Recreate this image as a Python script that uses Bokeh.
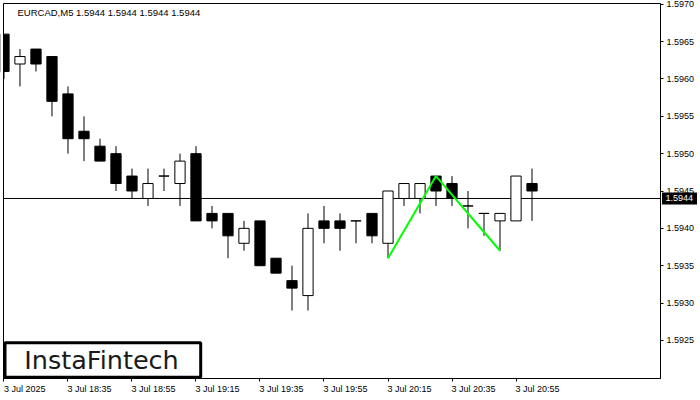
from bokeh.plotting import figure
from bokeh.models import Range1d, FixedTicker, BoxAnnotation
from bokeh.core.properties import value
from bokeh.embed import file_html
from bokeh.resources import INLINE

# ---- data (EURCAD, M5) ----
opens  = [1.5966, 1.5962, 1.5964, 1.5963, 1.5958, 1.5953, 1.5951, 1.5950, 1.5947, 1.5944,
          1.5947, 1.5946, 1.5950, 1.5942, 1.5942, 1.5938, 1.5941, 1.5936, 1.5933, 1.5931,
          1.5941, 1.5941, 1.5941, 1.5942, 1.5938, 1.5944, 1.5944, 1.5947, 1.5946, 1.5943,
          1.5942, 1.5941, 1.5941, 1.5946]
highs  = [1.5966, 1.5964, 1.5964, 1.5963, 1.5959, 1.5955, 1.5952, 1.5951, 1.5948, 1.5948,
          1.5948, 1.5950, 1.5951, 1.5943, 1.5942, 1.5941, 1.5941, 1.5936, 1.5935, 1.5942,
          1.5943, 1.5942, 1.5941, 1.5942, 1.5945, 1.5946, 1.5946, 1.5947, 1.5947, 1.5945,
          1.5942, 1.5942, 1.5947, 1.5948]
lows   = [1.5960, 1.5959, 1.5961, 1.5955, 1.5950, 1.5949, 1.5949, 1.5945, 1.5944, 1.5943,
          1.5945, 1.5943, 1.5941, 1.5940, 1.5936, 1.5937, 1.5935, 1.5934, 1.5929, 1.5929,
          1.5938, 1.5937, 1.5938, 1.5938, 1.5936, 1.5943, 1.5942, 1.5943, 1.5943, 1.5940,
          1.5939, 1.5937, 1.5941, 1.5941]
closes = [1.5961, 1.5963, 1.5962, 1.5957, 1.5952, 1.5952, 1.5949, 1.5946, 1.5945, 1.5946,
          1.5947, 1.5949, 1.5941, 1.5941, 1.5939, 1.5940, 1.5935, 1.5934, 1.5932, 1.5940,
          1.5940, 1.5940, 1.5941, 1.5939, 1.5945, 1.5946, 1.5946, 1.5945, 1.5944, 1.5943,
          1.5942, 1.5942, 1.5947, 1.5945]

time_tick_idx = [0, 4, 8, 12, 16, 20, 24, 28, 32]
time_labels = ["3 Jul 2025", "3 Jul 18:35", "3 Jul 18:55", "3 Jul 19:15", "3 Jul 19:35",
               "3 Jul 19:55", "3 Jul 20:15", "3 Jul 20:35", "3 Jul 20:55"]
price_ticks = [1.5925, 1.5930, 1.5935, 1.5940, 1.5945, 1.5950, 1.5955, 1.5960, 1.5965, 1.5970]

pattern_idx = [24, 27, 31]
pattern_price = [1.5936, 1.5947, 1.5937]

last_price = 1.5944
header = "EURCAD,M5  1.5944 1.5944 1.5944 1.5944"
brand = "InstaFintech"

# ---- layout geometry (canvas pixels) ----
W, H = 700, 400
FL, FR, FT, FB = 3, 660, 3, 378          # chart frame edges
X0, XE = -0.03, 41.03                     # bar index at left / right frame edge
Y0, Y1 = 1.59199, 1.59701                 # price at bottom / top frame edge
SX = (XE - X0) / (FR - FL)                # data per px
SY = (Y1 - Y0) / (FB - FT)

def dx(px):
    return X0 + (px - FL) * SX

def dy(py):
    return Y1 - (py - FT) * SY

FONT = "Liberation Sans"

p = figure(width=W, height=H, output_backend="svg", toolbar_location=None,
           x_range=Range1d(dx(0), dx(W)), y_range=Range1d(dy(H), dy(0)),
           y_axis_location="right", min_border=0)
p.grid.visible = False
p.outline_line_color = None
p.background_fill_color = "white"
p.border_fill_color = "white"

idx = list(range(len(opens)))
tops = [max(o, c) for o, c in zip(opens, closes)]
bots = [min(o, c) for o, c in zip(opens, closes)]
fills = ["white" if c > o else "black" for o, c in zip(opens, closes)]

# last price line (behind candles)
p.segment(x0=[X0], y0=[last_price], x1=[XE], y1=[last_price], line_color="black", line_width=1)

p.segment(x0=idx, y0=lows, x1=idx, y1=highs, line_color="black", line_width=1)
p.vbar(x=idx, width=0.64, top=tops, bottom=bots, fill_color=fills,
       line_color="black", line_width=1)

# area left of the chart frame stays blank
p.quad(left=[dx(-5)], right=[X0], bottom=[dy(H)], top=[dy(0)], fill_color="white", line_color=None)

# double-top pattern
p.line(x=pattern_idx, y=pattern_price, line_color="#00ff00", line_width=2)

# header text
p.text(x=[dx(17)], y=[dy(6)], text=[header], text_font=value(FONT),
       text_font_size="9.5px", text_baseline="top", text_align="left", text_color="black")

# brand box
p.quad(left=[dx(4.5)], right=[dx(200.2)], bottom=[dy(376.8)], top=[dy(342.2)],
       fill_color="white", line_color="black", line_width=3)
p.text(x=[dx(101)], y=[dy(359.5)], text=[brand], text_font=value("DejaVu Sans"),
       text_font_size="25.5px", text_align="center", text_baseline="middle",
       text_color="#1a1a1a")

# chart frame
p.add_layout(BoxAnnotation(left=X0, right=XE, bottom=Y0, top=Y1, fill_alpha=0,
                           line_color="black", line_width=1, line_alpha=1))

# price axis, on the right edge of the frame
ya = p.yaxis[0]
ya.fixed_location = XE
ya.bounds = (Y0, Y1)
ya.ticker = FixedTicker(ticks=price_ticks)
ya.major_label_overrides = {t: f"{t:.4f}" for t in price_ticks}
ya.major_tick_out = 3
ya.major_tick_in = 0
ya.minor_tick_out = 0
ya.minor_tick_in = 0
ya.major_label_standoff = 3
ya.axis_line_color = "black"
ya.major_tick_line_color = "black"
ya.major_label_text_font = FONT
ya.major_label_text_font_size = "9px"
ya.major_label_text_color = "black"

# time axis: tick marks at the bars (minor ticks), labels shifted so they start at the mark
shift_first, shift_rest = 1.30, 1.34
label_pos = [round(i + (shift_first if k == 0 else shift_rest), 3) for k, i in enumerate(time_tick_idx)]
xa = p.xaxis[0]
xa.fixed_location = Y0
xa.bounds = (X0, XE)
xa.ticker = FixedTicker(ticks=label_pos, minor_ticks=time_tick_idx)
xa.major_label_overrides = {pos: s for pos, s in zip(label_pos, time_labels)}
xa.major_tick_out = 0
xa.major_tick_in = 0
xa.minor_tick_out = 3
xa.minor_tick_in = 0
xa.minor_tick_line_color = "black"
xa.major_label_standoff = 2
xa.axis_line_color = "black"
xa.major_label_text_font = FONT
xa.major_label_text_font_size = "9px"
xa.major_label_text_color = "black"

# current price tag on the price axis
p.rect(x=[dx(679)], y=[last_price], width=35, height=12, width_units="screen",
       height_units="screen", fill_color="black", line_color=None, level="overlay")
p.text(x=[dx(665)], y=[last_price], text=[f"{last_price:.4f}"], text_font=value(FONT),
       text_font_size="9px", text_align="left", text_baseline="middle",
       text_color="white", level="overlay")

open("out.html", "w").write(file_html(p, INLINE))
